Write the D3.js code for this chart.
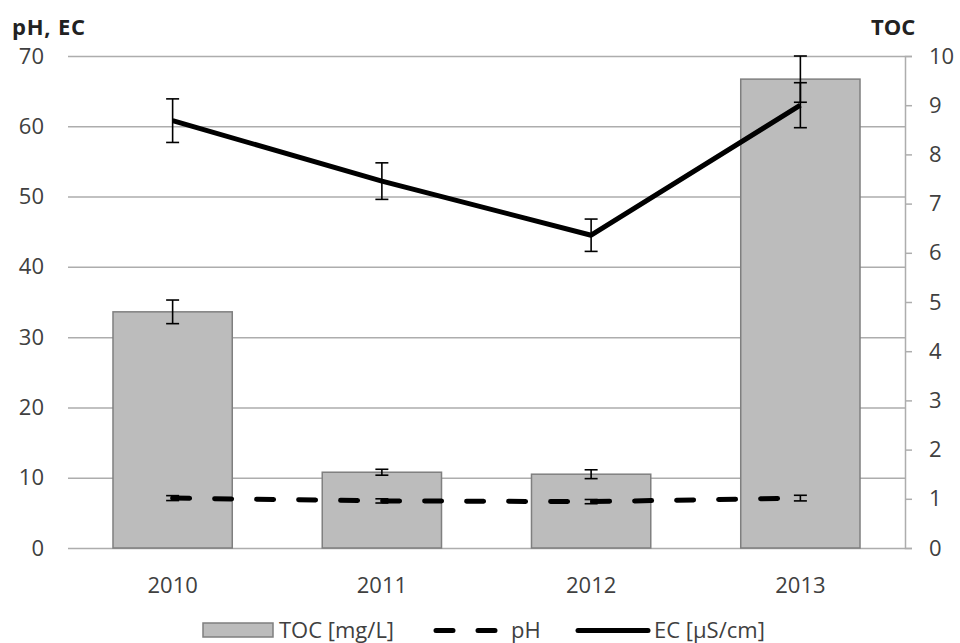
<!DOCTYPE html>
<html>
<head>
<meta charset="utf-8">
<script src="https://cdn.jsdelivr.net/npm/d3@7"></script>
<style>
  html, body { margin: 0; padding: 0; background: #fff; }
  svg { display: block; font-family: "Open Sans", "Liberation Sans", sans-serif; }
</style>
</head>
<body>
<svg id="chart" width="960" height="643"></svg>
<script>
// Yearly measurements
const years = ["2010", "2011", "2012", "2013"];
const tocValues = [4.8, 1.54, 1.5, 9.53];     // TOC [mg/L], right axis
const tocErrors = [0.24, 0.06, 0.09, 0.47];
const phValues = [7.1, 6.7, 6.6, 7.1];         // pH, left axis
const phErrors = [0.35, 0.3, 0.3, 0.4];
const ecValues = [60.8, 52.2, 44.5, 63.0];     // EC [µS/cm], left axis
const ecErrors = [3.1, 2.6, 2.3, 3.2];
const leftTicks = [0, 10, 20, 30, 40, 50, 60, 70];
const rightTicks = [0, 1, 2, 3, 4, 5, 6, 7, 8, 9, 10];
const legendLabels = ["TOC [mg/L]", "pH", "EC [µS/cm]"];

const svg = d3.select("#chart");
const plot = { left: 68, right: 905, top: 56, bottom: 548 };
const textColor = "#404040";
const fontSize = 22;

const x = d3.scaleBand()
  .domain(years)
  .range([plot.left, plot.right])
  .paddingInner(0.43)
  .paddingOuter(0.215);
const yLeft = d3.scaleLinear().domain([0, 70]).range([plot.bottom, plot.top]);
const yRight = d3.scaleLinear().domain([0, 10]).range([plot.bottom, plot.top]);
const cx = d => x(d) + x.bandwidth() / 2;

// Horizontal gridlines with left tick labels
const gridAxis = svg.append("g")
  .attr("transform", `translate(${plot.left},0)`)
  .call(d3.axisLeft(yLeft).tickValues(leftTicks).tickSize(-(plot.right - plot.left)).tickPadding(24));
gridAxis.select(".domain").remove();
gridAxis.selectAll(".tick line").attr("stroke", "#adadad").attr("stroke-width", 1.5);
gridAxis.selectAll(".tick text")
  .attr("fill", textColor).attr("font-size", fontSize)
  .attr("font-family", "'Open Sans', sans-serif");

// Right axis for TOC
const rightAxis = svg.append("g")
  .attr("transform", `translate(${plot.right},0)`)
  .call(d3.axisRight(yRight).tickValues(rightTicks).tickSize(7).tickPadding(17));
rightAxis.select(".domain").attr("stroke", "#adadad").attr("stroke-width", 1.5);
rightAxis.selectAll(".tick line").attr("stroke", "#adadad").attr("stroke-width", 1.5);
rightAxis.selectAll(".tick text")
  .attr("fill", textColor).attr("font-size", fontSize)
  .attr("font-family", "'Open Sans', sans-serif");

// Category labels
const xAxis = svg.append("g")
  .attr("transform", `translate(0,${plot.bottom})`)
  .call(d3.axisBottom(x).tickSize(0).tickPadding(29));
xAxis.select(".domain").remove();
xAxis.selectAll(".tick text")
  .attr("fill", textColor).attr("font-size", fontSize)
  .attr("font-family", "'Open Sans', sans-serif");

// Axis titles
svg.append("text").attr("x", 12).attr("y", 35)
  .attr("font-size", 22).attr("font-weight", "bold").attr("fill", "#222")
  .attr("letter-spacing", 0.8)
  .text("pH, EC");
svg.append("text").attr("x", 871).attr("y", 35)
  .attr("font-size", 22).attr("font-weight", "bold").attr("fill", "#222")
  .text("TOC");

// TOC bars
svg.append("g").selectAll("rect")
  .data(years)
  .join("rect")
  .attr("x", d => x(d))
  .attr("width", x.bandwidth())
  .attr("y", (d, i) => yRight(tocValues[i]))
  .attr("height", (d, i) => yRight(0) - yRight(tocValues[i]))
  .attr("fill", "#bcbcbc")
  .attr("stroke", "#7f7f7f")
  .attr("stroke-width", 1.5);

// Error bar helper
function errorBars(values, errors, scale) {
  const g = svg.append("g").attr("stroke", "#000").attr("stroke-width", 1.6).attr("fill", "none");
  years.forEach((yr, i) => {
    const xc = cx(yr);
    const top = scale(values[i] + errors[i]);
    const bot = scale(values[i] - errors[i]);
    g.append("line").attr("x1", xc).attr("x2", xc).attr("y1", top).attr("y2", bot);
    g.append("line").attr("x1", xc - 6.5).attr("x2", xc + 6.5).attr("y1", top).attr("y2", top);
    g.append("line").attr("x1", xc - 6.5).attr("x2", xc + 6.5).attr("y1", bot).attr("y2", bot);
  });
}

errorBars(tocValues, tocErrors, yRight);

const lineGen = d3.line().x((d, i) => cx(years[i])).y(d => yLeft(d));

// pH dashed line
svg.append("path")
  .datum(phValues)
  .attr("d", lineGen)
  .attr("fill", "none")
  .attr("stroke", "#000")
  .attr("stroke-width", 5)
  .attr("stroke-linecap", "round")
  .attr("stroke-dasharray", "17,25");
errorBars(phValues, phErrors, yLeft);

// EC solid line
svg.append("path")
  .datum(ecValues)
  .attr("d", lineGen)
  .attr("fill", "none")
  .attr("stroke", "#000")
  .attr("stroke-width", 5)
  .attr("stroke-linejoin", "round");
errorBars(ecValues, ecErrors, yLeft);

// Legend
const legY = 630.5;
const leg = svg.append("g").attr("font-size", fontSize).attr("fill", textColor);
leg.append("rect").attr("x", 203).attr("y", 623).attr("width", 70).attr("height", 14)
  .attr("fill", "#bcbcbc").attr("stroke", "#7f7f7f").attr("stroke-width", 1.5);
leg.append("text").attr("x", 279).attr("y", legY).attr("dy", "0.35em").text(legendLabels[0]);
leg.append("line").attr("x1", 436).attr("x2", 500).attr("y1", legY).attr("y2", legY)
  .attr("stroke", "#000").attr("stroke-width", 5).attr("stroke-linecap", "round")
  .attr("stroke-dasharray", "17,25");
leg.append("text").attr("x", 511).attr("y", legY).attr("dy", "0.35em").text(legendLabels[1]);
leg.append("line").attr("x1", 578).attr("x2", 648).attr("y1", legY).attr("y2", legY)
  .attr("stroke", "#000").attr("stroke-width", 5).attr("stroke-linecap", "round");
leg.append("text").attr("x", 654).attr("y", legY).attr("dy", "0.35em").text(legendLabels[2]);
</script>
</body>
</html>
